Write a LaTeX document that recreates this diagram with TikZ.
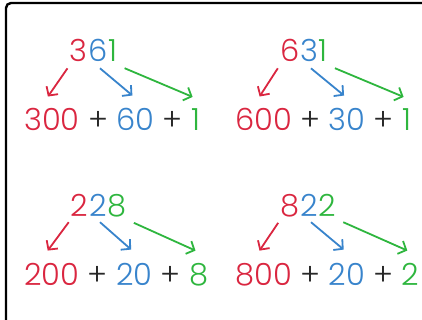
\documentclass[tikz,border=0pt]{standalone}
\usepackage{fontspec}
\setmainfont{Poppins}[UprightFont=* Light]
\usetikzlibrary{arrows.meta,positioning}
\definecolor{hundred}{RGB}{218,38,64}
\definecolor{ten}{RGB}{56,132,204}
\definecolor{one}{RGB}{46,182,62}
\definecolor{sign}{RGB}{40,40,40}
\newcommand{\splitnum}[6]{%
  % top number, one node per digit
  \node[anchor=base,text=ten] (#1t) at (#2+98,#3+62) {#5};
  \node[base left=0.5pt of #1t,text=hundred] (#1h) {#4};
  \node[base right=0.5pt of #1t,text=one] (#1o) {#6};
  % expanded form
  \node[anchor=base west,text=hundred] (#1H) at (#2+24,#3+131) {#400};
  \node[base right=of #1H,text=sign] (#1p) {+};
  \node[base right=of #1p,text=ten] (#1T) {#50};
  \node[base right=of #1T,text=sign] (#1q) {+};
  \node[base right=of #1q,text=one] (#1O) {#6};
  \draw[part,hundred] ([xshift=-2pt,yshift=-6pt]#1h.south west) -- ([xshift=-4pt,yshift=12pt]#1H.north);
  \draw[part,ten] ([xshift=2pt,yshift=-6pt]#1t.south) -- ([xshift=-3pt,yshift=13pt]#1T.north);
  \draw[part,one] ([xshift=7pt,yshift=-6pt]#1o.south east) -- ([xshift=-3pt,yshift=12pt]#1O.north);
}

\begin{document}
\begin{tikzpicture}[x=1pt,y=-1pt,>=Stealth,node distance=8pt,
    every node/.style={inner sep=0pt,font=\fontsize{30.5}{36}\selectfont},
    part/.style={line width=1.8pt,-{Straight Barb[length=6.5pt,width=14pt]}},
    frame/.style={line width=2.4pt,rounded corners=5pt}]
  \useasboundingbox (0,0) rectangle (422,320);
  \clip (0,0) rectangle (422,320);
  \fill[white] (0,0) rectangle (422,320);
  \draw[frame] (6,3) rectangle (460,360);
  \splitnum{a}{0}{0}{3}{6}{1}
  \splitnum{b}{211}{0}{6}{3}{1}
  \splitnum{c}{0}{154}{2}{2}{8}
  \splitnum{d}{211}{154}{8}{2}{2}
\end{tikzpicture}
\end{document}
